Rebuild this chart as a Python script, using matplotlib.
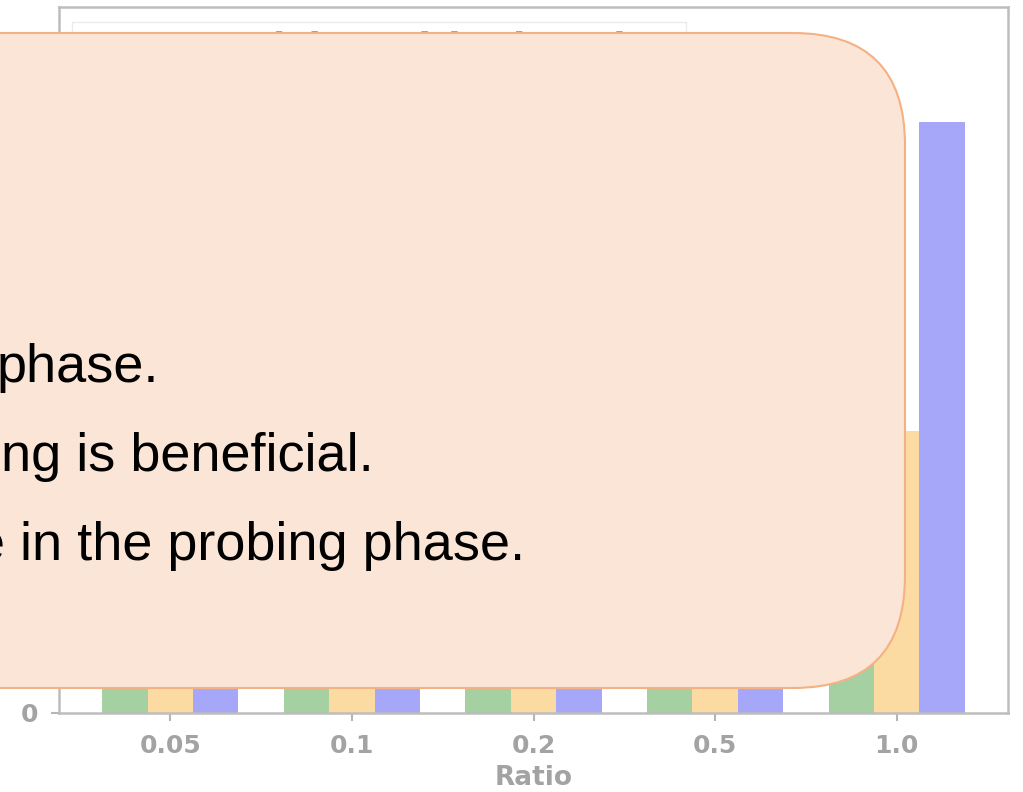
import numpy as np
import matplotlib.pyplot as plt
from matplotlib.patches import FancyBboxPatch
from matplotlib.transforms import IdentityTransform

# ==== Data ====
ratios = ['0.05', '0.1', '0.2', '0.5', '1.0']
series_names = ['w/o probing', 'probing', 'probing + mixing']
green_vals = [90, 110, 130, 140, 150]
orange_vals = [100, 120, 140, 160, 240]
blue_vals = [110, 130, 150, 170, 502]
y_ticks = [0]  # other y ticks sit under the callout box

note_lines = ['phase.', 'ing is beneficial.', 'e in the probing phase.']

# ==== Style ====
grey = '#a3a3a3'
colors = ['#a4d0a2', '#fcdba2', '#a7a7fa']
W, H = 1023, 792

fig = plt.figure(figsize=(W / 100, H / 100), dpi=100)
ax = fig.add_axes([59 / W, (H - 713) / H, (1008 - 59) / W, (713 - 7) / H])

x = np.arange(len(ratios))
bw = 0.25
for i, (vals, c, name) in enumerate(zip([green_vals, orange_vals, blue_vals], colors, series_names)):
    ax.bar(x + (i - 1) * bw, vals, width=bw, color=c, label=name, linewidth=0)

ax.set_ylim(0, 600)
ax.set_yticks(y_ticks)
ax.set_xticks(x)
ax.set_xticklabels(ratios)
ax.set_xlabel('Ratio', fontsize=19, fontweight='bold', color=grey, labelpad=5)
ax.tick_params(colors='#b5b5b5', labelcolor=grey, labelsize=18, length=6, width=1.5, pad=9)
for lab in ax.get_xticklabels() + ax.get_yticklabels():
    lab.set_fontweight('bold')
for sp in ax.spines.values():
    sp.set_color('#bdbdbd')
    sp.set_linewidth(1.8)

leg = ax.legend(title='PGA-Ly Mixing with Clamping', loc='upper left',
                bbox_to_anchor=(0.014, 0.979), borderaxespad=0, fontsize=16,
                title_fontproperties={'size': 26, 'weight': 'bold'},
                frameon=True, edgecolor='#e6e6e6', fancybox=False)
leg.get_title().set_color(grey)
for t in leg.get_texts():
    t.set_color(grey)

# ==== Callout box covering the chart ====
box = FancyBboxPatch((-150, H - 688), 905 + 150, 688 - 33,
                     boxstyle='round,pad=0,rounding_size=112',
                     transform=IdentityTransform(),
                     facecolor='#fbe5d6', edgecolor='#f4b183', linewidth=1.5, zorder=5)
fig.add_artist(box)

line_ends = [159, 374, 525]
baselines = [382, 471, 560]
for txt, xe, yb in zip(note_lines, line_ends, baselines):
    fig.text(xe / W, 1 - yb / H, txt, ha='right', va='baseline', fontsize=39,
             family='Liberation Sans', color='black', zorder=6)

fig.savefig('out.png', dpi=100)
